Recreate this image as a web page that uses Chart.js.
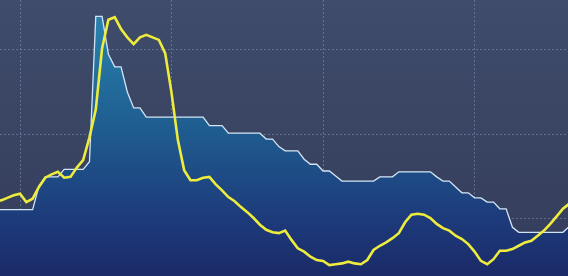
<!DOCTYPE html>
<html>
<head>
<meta charset="utf-8">
<script src="https://cdn.jsdelivr.net/npm/chart.js@4/dist/chart.umd.min.js"></script>
<style>
  html, body { margin: 0; padding: 0; background: #3b4767; }
  #wrap { width: 568px; height: 276px; }
</style>
</head>
<body>
<div id="wrap"><canvas id="mainChart"></canvas></div>
<script>
// month index (0 = first gridline), one point per month
const months = [];
for (let m = -4; m <= 88; m++) months.push(m);

// filled series (white outline)
const areaValues = [
  21.0, 21.0, 21.0, 21.0, 21.0, 21.0, 21.0, 23.8, 24.9, 24.9,
  24.9, 25.8, 25.8, 25.8, 25.8, 26.7, 44.0, 44.0, 39.5, 38.0,
  38.0, 35.0, 33.1, 33.1, 32.0, 32.0, 32.0, 32.0, 32.0, 32.0,
  32.0, 32.0, 32.0, 32.0, 31.0, 31.0, 31.0, 30.1, 30.1, 30.1,
  30.1, 30.1, 30.1, 29.4, 29.4, 28.5, 28.0, 28.0, 28.0, 27.0,
  26.4, 26.4, 25.6, 25.6, 25.0, 24.4, 24.4, 24.4, 24.4, 24.4,
  24.4, 24.9, 24.9, 24.9, 25.5, 25.5, 25.5, 25.5, 25.5, 25.5,
  24.9, 24.4, 24.4, 23.7, 23.0, 23.0, 22.4, 22.4, 21.9, 21.9,
  21.1, 21.1, 18.9, 18.3, 18.3, 18.3, 18.3, 18.3, 18.3, 18.3,
  18.3, 19.0, 19.8
];

// yellow line series
const lineValues = [
  22.0, 22.1, 22.4, 22.7, 22.9, 21.9, 22.3, 23.7, 24.8, 25.2,
  25.5, 24.8, 24.9, 26.0, 26.9, 29.6, 32.9, 40.2, 43.6, 43.9,
  42.5, 41.5, 40.7, 41.5, 41.8, 41.5, 41.2, 39.6, 34.9, 29.3,
  25.7, 24.5, 24.5, 24.8, 24.9, 24.0, 23.3, 22.5, 22.0, 21.3,
  20.7, 20.0, 19.2, 18.6, 18.3, 18.2, 18.5, 17.4, 16.4, 16.0,
  15.4, 15.0, 14.9, 14.4, 14.5, 14.6, 14.8, 14.6, 14.5, 15.0,
  16.2, 16.7, 17.1, 17.6, 18.2, 19.5, 20.4, 20.5, 20.4, 20.0,
  19.3, 18.8, 18.5, 17.9, 17.5, 16.9, 16.0, 14.9, 14.5, 15.1,
  16.1, 16.1, 16.3, 16.7, 17.1, 17.3, 17.9, 18.5, 19.3, 20.2,
  21.1, 21.7, 22.1
];

// gridline positions
const xTicks = [0, 24, 48, 72];
const yTicks = [20, 30, 40];

const bgPlugin = {
  id: 'bg',
  beforeDraw(chart) {
    const c = chart.ctx;
    const g = c.createLinearGradient(0, 0, 0, chart.height);
    g.addColorStop(0, '#3f4c6b');
    g.addColorStop(1, '#343c5a');
    c.save();
    c.fillStyle = g;
    c.fillRect(0, 0, chart.width, chart.height);
    c.restore();
  }
};

function areaFill(context) {
  const chart = context.chart;
  const area = chart.chartArea;
  if (!area) return '#1f5f92';
  const g = chart.ctx.createLinearGradient(0, area.top, 0, area.bottom);
  g.addColorStop(0, '#2a88b2');
  g.addColorStop(0.45, '#1f5e91');
  g.addColorStop(0.8, '#1d3a7a');
  g.addColorStop(1, '#1b2a68');
  return g;
}

const gridStyle = {
  color: 'rgba(125, 145, 185, 0.55)',
  lineWidth: 1,
  drawTicks: false
};

new Chart(document.getElementById('mainChart'), {
  type: 'line',
  data: {
    labels: months,
    datasets: [
      {
        data: lineValues,
        borderColor: '#eeec3c',
        borderWidth: 2.6,
        pointRadius: 0,
        fill: false,
        tension: 0,
        order: 0
      },
      {
        data: areaValues,
        borderColor: '#d4e6f5',
        borderWidth: 1.3,
        backgroundColor: areaFill,
        pointRadius: 0,
        fill: 'start',
        tension: 0,
        order: 1
      }
    ]
  },
  options: {
    responsive: true,
    maintainAspectRatio: false,
    animation: false,
    layout: { padding: 0 },
    plugins: {
      legend: { display: false },
      tooltip: { enabled: false }
    },
    scales: {
      x: {
        type: 'linear',
        min: -3.17,
        max: 86.8,
        afterBuildTicks: s => { s.ticks = xTicks.map(v => ({ value: v })); },
        ticks: { display: false },
        grid: gridStyle,
        border: { display: false, dash: [2, 2] }
      },
      y: {
        min: 13.1,
        max: 45.95,
        afterBuildTicks: s => { s.ticks = yTicks.map(v => ({ value: v })); },
        ticks: { display: false },
        grid: gridStyle,
        border: { display: false, dash: [2, 2] }
      }
    }
  },
  plugins: [bgPlugin]
});
</script>
</body>
</html>
